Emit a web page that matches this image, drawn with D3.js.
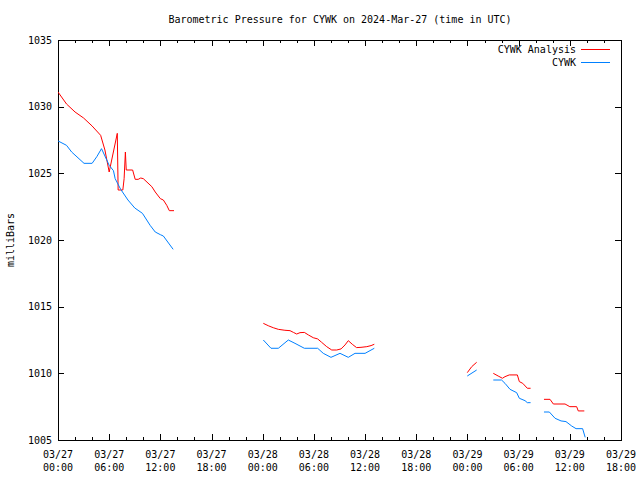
<!DOCTYPE html>
<html><head><meta charset="utf-8">
<script src="https://cdn.jsdelivr.net/npm/d3@7"></script>
<style>
html,body{margin:0;padding:0;background:#fff;}
svg{display:block;}
text{font-family:"DejaVu Sans Mono","Liberation Mono",monospace;font-size:10px;fill:#000;}
</style></head>
<body>
<script>
// ---- data (hours after 2024-03-27 00:00 UTC, null = gap) ----
const analysisHours = [0,1,2,3,4,5,5.5,6,6.95,7.05,7.6,7.75,7.9,8,8.75,9.05,9.4,9.7,10,11,11.4,12,12.35,12.75,13.05,13.6,
  null,
  24.07,24.65,25.24,25.83,26.6,27.2,27.6,27.98,28.37,28.88,29.35,29.93,30.44,30.9,31.5,32.09,32.67,33.18,33.65,34.03,34.5,35,35.52,36.2,36.7,37.08,
  null,
  47.98,48.5,49.08,
  null,
  51.03,51.6,52.1,52.4,52.9,53.85,54.08,54.48,55.02,55.4,
  null,
  56.97,57.68,58.07,59.44,60,60.8,60.99,61.7];
const analysisMb = [1031.1,1030.2,1029.6,1029.15,1028.55,1027.85,1026.75,1025.1,1028.0,1023.75,1023.75,1024.6,1026.6,1025.25,1025.25,1024.55,1024.55,1024.65,1024.6,1024.0,1023.6,1023.1,1023.0,1022.6,1022.2,1022.2,
  null,
  1013.75,1013.57,1013.42,1013.3,1013.23,1013.2,1013.07,1012.95,1013.05,1013.07,1012.88,1012.67,1012.58,1012.33,1012.0,1011.75,1011.75,1011.83,1012.13,1012.45,1012.18,1011.93,1011.95,1012.0,1012.08,1012.18,
  null,
  1010.05,1010.5,1010.83,
  null,
  1010.0,1009.8,1009.63,1009.75,1009.88,1009.88,1009.38,1009.25,1008.88,1008.88,
  null,
  1008.05,1008.05,1007.7,1007.7,1007.5,1007.5,1007.18,1007.18];

const obsHours = [0,1,1.6,3.05,4,4.55,5.1,5.5,6,6.5,6.7,7.35,8.2,9,9.9,10.8,11.4,12,12.35,13.5,
  null,
  24.07,24.97,25.83,27,27.78,28.88,30.44,31.1,32,33.06,34.03,34.82,36,37.08,
  null,
  47.98,49.08,
  null,
  51.03,52,52.4,52.99,53.77,54.08,54.75,55.02,55.4,
  null,
  56.97,57.6,58.27,58.97,59.55,60.22,60.73,61.5,61.8];
const obsMb = [1027.43,1027.1,1026.6,1025.75,1025.75,1026.25,1026.85,1026.3,1025.6,1025.2,1024.6,1023.8,1023.0,1022.4,1022.0,1021.1,1020.6,1020.4,1020.3,1019.3,
  null,
  1012.5,1011.88,1011.88,1012.5,1012.25,1011.88,1011.88,1011.5,1011.2,1011.5,1011.2,1011.5,1011.5,1011.88,
  null,
  1009.8,1010.25,
  null,
  1009.5,1009.5,1009.25,1008.8,1008.55,1008.13,1007.95,1007.8,1007.8,
  null,
  1007.1,1007.1,1006.63,1006.43,1006.38,1006.05,1005.85,1005.85,1005.2];

const xTickHours = [0,6,12,18,24,30,36,42,48,54,60,66];
const xTickLabels = ["03/27\n00:00","03/27\n06:00","03/27\n12:00","03/27\n18:00","03/28\n00:00","03/28\n06:00","03/28\n12:00","03/28\n18:00","03/29\n00:00","03/29\n06:00","03/29\n12:00","03/29\n18:00"];
const yTicks = [1005,1010,1015,1020,1025,1030,1035];
const seriesNames = ["CYWK Analysis","CYWK"];
const seriesColors = ["#ff0000","#0080ff"];
const titleText = "Barometric Pressure for CYWK on 2024-Mar-27 (time in UTC)";
const yLabel = "milliBars";

// ---- chart ----
const W = 640, H = 480;
const L = 58, R = 621, T = 40, B = 440;
const t0 = Date.UTC(2024,2,27,0,0);
const toDate = h => new Date(t0 + h*3600000);

const x = d3.scaleUtc().domain([toDate(0), toDate(66)]).range([L, R]);
const y = d3.scaleLinear().domain([1005,1035]).range([B, T]);

const svg = d3.select("body").append("svg").attr("width", W).attr("height", H);

svg.append("text").attr("x", 340).attr("y", 23).attr("text-anchor","middle").text(titleText);

// frame
svg.append("rect").attr("x", L+0.5).attr("y", T+0.5).attr("width", R-L).attr("height", B-T)
  .attr("fill","none").attr("stroke","#000").attr("stroke-width",1).attr("shape-rendering","crispEdges");

// minor + major x ticks (inward, bottom and top)
const minorHours = d3.range(0, 67, 2);
const g = svg.append("g").attr("shape-rendering","crispEdges").attr("stroke","#000");
minorHours.forEach(h => {
  const major = h % 6 === 0;
  const len = major ? 6 : 3;
  const xx = Math.round(x(toDate(h))) + 0.5;
  g.append("line").attr("x1",xx).attr("x2",xx).attr("y1",B).attr("y2",B-len);
  g.append("line").attr("x1",xx).attr("x2",xx).attr("y1",T).attr("y2",T+len);
});
yTicks.forEach(v => {
  const yy = Math.round(y(v)) + 0.5;
  g.append("line").attr("x1",L).attr("x2",L+6).attr("y1",yy).attr("y2",yy);
  g.append("line").attr("x1",R).attr("x2",R-6).attr("y1",yy).attr("y2",yy);
});

// x tick labels
xTickHours.forEach((h,i) => {
  const parts = xTickLabels[i].split("\n");
  const t = svg.append("text").attr("text-anchor","middle");
  t.append("tspan").attr("x", x(toDate(h))).attr("y", 458).text(parts[0]);
  t.append("tspan").attr("x", x(toDate(h))).attr("y", 471).text(parts[1]);
});
// y tick labels
yTicks.forEach(v => {
  svg.append("text").attr("x", 52).attr("y", y(v)+3.5).attr("text-anchor","end").text(v);
});
svg.append("text").attr("transform","translate(14,240) rotate(-90)").attr("text-anchor","middle").text(yLabel);

// lines
const line = d3.line()
  .defined(d => d[0] !== null && d[1] !== null)
  .x(d => x(toDate(d[0]))).y(d => y(d[1]));

const series = [
  d3.zip(analysisHours, analysisMb),
  d3.zip(obsHours, obsMb)
];
const clip = svg.append("clipPath").attr("id","c").append("rect")
  .attr("x",L).attr("y",T).attr("width",R-L).attr("height",B-T);
series.forEach((s,i) => {
  svg.append("path").attr("d", line(s)).attr("fill","none")
    .attr("stroke", seriesColors[i]).attr("stroke-width",1).attr("clip-path","url(#c)");
});

// legend
seriesNames.forEach((n,i) => {
  const yy = 49.5 + i*13;
  svg.append("text").attr("x", 576).attr("y", yy+3.5).attr("text-anchor","end").text(n);
  svg.append("rect").attr("x",581).attr("y",yy-0.5).attr("width",29).attr("height",1)
    .attr("fill",seriesColors[i]).attr("shape-rendering","crispEdges");
});
</script>
</body></html>
